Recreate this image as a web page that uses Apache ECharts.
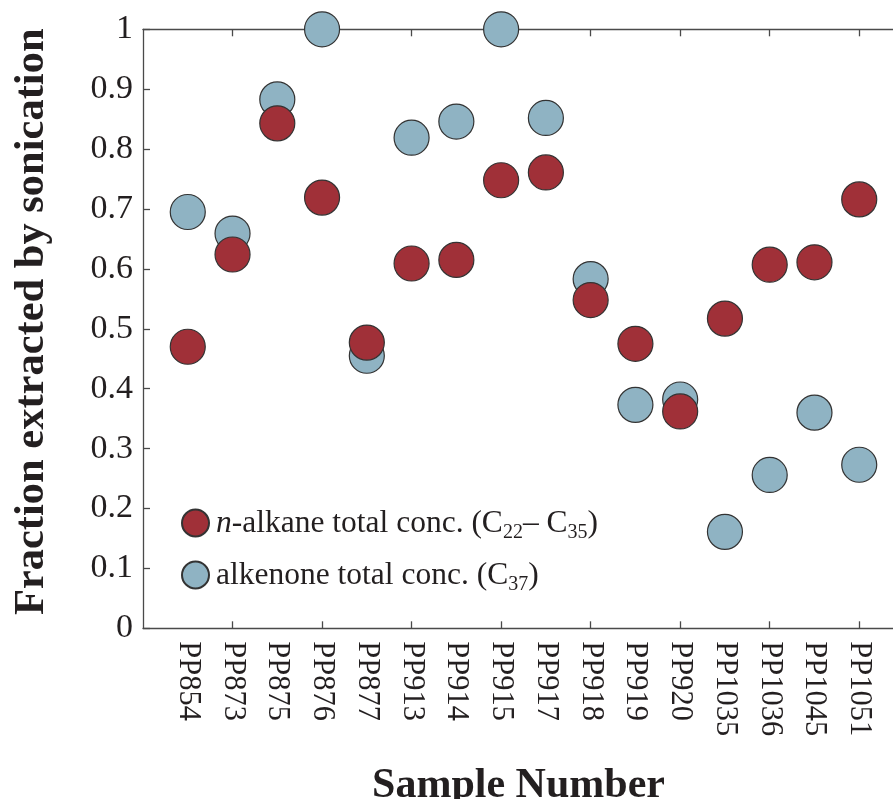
<!DOCTYPE html>
<html>
<head>
<meta charset="utf-8">
<script src="https://cdn.jsdelivr.net/npm/echarts@6/dist/echarts.min.js"></script>
<style>
  html, body { margin: 0; padding: 0; background: #ffffff; }
  #chart { width: 893px; height: 799px; }
</style>
</head>
<body>
<div id="chart"></div>
<script>
// Sample identifiers along the x axis
const samples = ['PP854', 'PP873', 'PP875', 'PP876', 'PP877', 'PP913', 'PP914', 'PP915',
                 'PP917', 'PP918', 'PP919', 'PP920', 'PP1035', 'PP1036', 'PP1045', 'PP1051'];

// Fraction extracted by sonication, n-alkanes (C22–C35)
const alkaneFraction = [0.470, 0.624, 0.843, 0.719, 0.477, 0.609, 0.615, 0.748,
                        0.761, 0.548, 0.475, 0.362, 0.517, 0.607, 0.611, 0.716];

// Fraction extracted by sonication, alkenones (C37)
const alkenoneFraction = [0.695, 0.659, 0.883, 1.000, 0.455, 0.819, 0.846, 1.000,
                          0.852, 0.583, 0.373, 0.382, 0.161, 0.256, 0.360, 0.273];

// y axis ticks
const yTicks = [0, 0.1, 0.2, 0.3, 0.4, 0.5, 0.6, 0.7, 0.8, 0.9, 1];

const SERIF = '"Liberation Serif", "Times New Roman", serif';
const INK = '#231f20';
const AXIS = '#4a4a4a';
const RED = '#a03038';
const BLUE = '#8fb3c3';

// one empty slot on each side so samples sit at whole-step positions
const axisCats = [''].concat(samples, ['']);
const tickEvery2 = (i) => i > 0 && i < axisCats.length - 1 && i % 2 === 0;

const chart = echarts.init(document.getElementById('chart'), null, { renderer: 'canvas' });

const option = {
  backgroundColor: '#ffffff',
  animation: false,
  // the frame runs a little past the right edge of the canvas
  grid: { left: 143, top: 29.3, width: 761, height: 599, containLabel: false, outerBoundsMode: 'none' },
  legend: {
    data: ['n-alkane', 'alkenone'],
    orient: 'vertical',
    left: 176,
    top: 503,
    itemWidth: 27,
    itemHeight: 27,
    itemGap: 17,
    icon: 'circle',
    selectedMode: false,
    formatter: (name) => name === 'n-alkane'
      ? '{it|n}{t|-alkane total conc. (C}{sub|22}{t|– C}{sub|35}{t|)}'
      : '{t|alkenone total conc. (C}{sub|37}{t|)}',
    textStyle: {
      fontFamily: SERIF,
      fontSize: 31.5,
      color: INK,
      padding: [0, 0, 0, 2],
      rich: {
        t:   { fontFamily: SERIF, fontSize: 31.5, color: INK, lineHeight: 30, verticalAlign: 'top' },
        it:  { fontFamily: SERIF, fontSize: 31.5, color: INK, fontStyle: 'italic', lineHeight: 30, verticalAlign: 'top' },
        sub: { fontFamily: SERIF, fontSize: 20, color: INK, lineHeight: 20, verticalAlign: 'top', padding: [15, 0, 0, 0] }
      }
    }
  },
  xAxis: [
    {
      type: 'category',
      data: axisCats,
      boundaryGap: false,
      position: 'bottom',
      name: 'Sample Number',
      nameLocation: 'middle',
      nameGap: 137,
      nameTextStyle: { fontFamily: SERIF, fontSize: 42, fontWeight: 'bold', color: INK, padding: [0, 10, 0, 0] },
      axisLine: { show: true, lineStyle: { color: AXIS, width: 1.3 } },
      axisTick: { show: true, inside: true, length: 7, interval: tickEvery2, lineStyle: { color: AXIS, width: 1.3 } },
      axisLabel: { interval: 0, rotate: -90, margin: 13, fontFamily: SERIF, fontSize: 30.5, color: INK },
      splitLine: { show: false }
    },
    {
      type: 'category',
      data: axisCats,
      boundaryGap: false,
      position: 'top',
      axisLine: { show: true, lineStyle: { color: AXIS, width: 1.3 } },
      axisTick: { show: true, inside: true, length: 7, interval: tickEvery2, lineStyle: { color: AXIS, width: 1.3 } },
      axisLabel: { show: false },
      splitLine: { show: false }
    }
  ],
  yAxis: {
    type: 'value',
    min: yTicks[0],
    max: yTicks[yTicks.length - 1],
    interval: 0.1,
    name: 'Fraction extracted by sonication',
    nameLocation: 'middle',
    nameGap: 89,
    nameTextStyle: { fontFamily: SERIF, fontSize: 42.5, fontWeight: 'bold', color: INK, padding: [0, 0, 0, 14] },
    axisLine: { show: true, lineStyle: { color: AXIS, width: 1.3 } },
    axisTick: { show: true, inside: true, length: 7, lineStyle: { color: AXIS, width: 1.3 } },
    axisLabel: {
      margin: 10, fontFamily: SERIF, fontSize: 34, color: INK,
      formatter: (v) => String(Math.round(v * 10) / 10)
    },
    splitLine: { show: false }
  },
  series: [
    {
      name: 'alkenone',
      type: 'scatter',
      xAxisIndex: 0,
      symbol: 'circle',
      symbolSize: 35,
      itemStyle: { color: BLUE, borderColor: '#333333', borderWidth: 1.2, opacity: 1 },
      data: samples.map((s, i) => [s, alkenoneFraction[i]]),
      z: 3
    },
    {
      name: 'n-alkane',
      type: 'scatter',
      xAxisIndex: 0,
      symbol: 'circle',
      symbolSize: 35,
      itemStyle: { color: RED, borderColor: '#333333', borderWidth: 1.2, opacity: 1 },
      data: samples.map((s, i) => [s, alkaneFraction[i]]),
      z: 4
    }
  ]
};

chart.setOption(option);
</script>
</body>
</html>
